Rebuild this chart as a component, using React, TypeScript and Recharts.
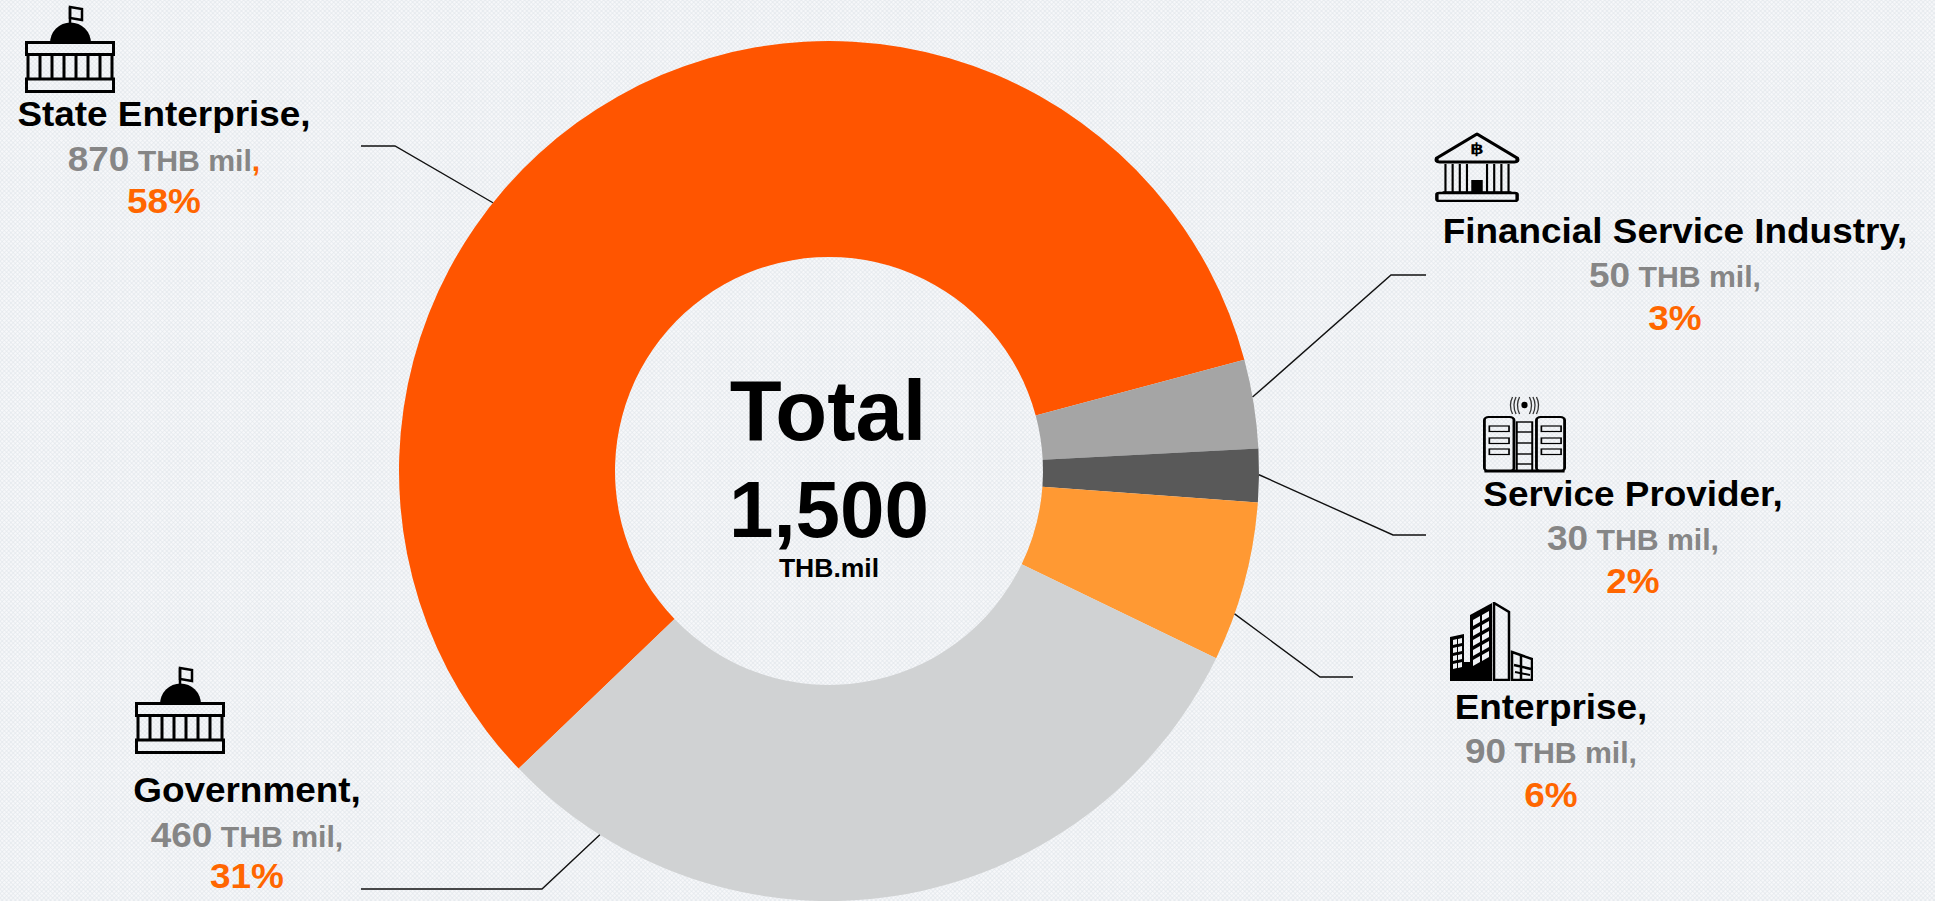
import { Pie, PieChart, Cell } from 'recharts';

const categories = ['State Enterprise', 'Financial Service Industry', 'Service Provider', 'Enterprise', 'Government'];
const values = [870, 50, 30, 90, 460];
const shares = [58, 3, 2, 6, 31];
const colors = ['#FF5500', '#A5A5A5', '#595959', '#FF9933', '#D0D2D3'];

const data = categories.map((name, i) => ({ name, value: values[i], share: shares[i] }));
const total = values.reduce((sum, v) => sum + v, 0);

const GREY = '#868686';
const ORANGE = '#FF6600';
const FONT = '"Liberation Sans", Arial, sans-serif';

// hand placed callouts, one per slice: where the leader leaves the ring, its elbow and end, then the text block
const callouts = [
  { anchor: 141.4, elbow: [395, 146], end: 361, cx: 164, y: [126, 171, 213], comma: ORANGE },
  { anchor: 9.9, elbow: [1391, 275], end: 1426, cx: 1675, y: [243, 287, 330], comma: GREY },
  { anchor: -0.5, elbow: [1393, 535], end: 1426, cx: 1633, y: [506, 550, 593], comma: GREY },
  { anchor: -19.4, elbow: [1320, 677], end: 1353, cx: 1551, y: [719, 763, 807], comma: GREY },
  { anchor: 237.8, elbow: [542, 889], end: 361, cx: 247, y: [802, 847, 888], comma: GREY },
];

function SliceCallout(props: any) {
  const { cx, cy, outerRadius, index } = props;
  const c = callouts[index];
  const d = data[index];
  const rad = (c.anchor * Math.PI) / 180;
  const x0 = cx + outerRadius * Math.cos(rad);
  const y0 = cy - outerRadius * Math.sin(rad);
  return (
    <g fontFamily={FONT} fontWeight="bold" textAnchor="middle">
      <polyline
        points={`${x0},${y0} ${c.elbow[0]},${c.elbow[1]} ${c.end},${c.elbow[1]}`}
        fill="none"
        stroke="#111"
        strokeWidth={1.4}
      />
      <g transform={`translate(${c.cx},0) scale(1.025,1)`}>
        <text y={c.y[0]} fontSize={36} fill="#000">
          {d.name},
        </text>
        <text y={c.y[1]} fontSize={36} fill={GREY}>
          {d.value}
          <tspan fontSize={29.5}> THB mil</tspan>
          <tspan fontSize={29.5} fill={c.comma}>
            ,
          </tspan>
        </text>
        <text y={c.y[2]} fontSize={36} fill={ORANGE}>
          {d.share}%
        </text>
      </g>
    </g>
  );
}

function CapitolIcon({ x, y }: { x: number; y: number }) {
  const columns = [3, 15, 27, 39, 51, 63, 75, 87];
  return (
    <svg x={x} y={y} width={90} height={88} viewBox="0 0 90 88">
      <path d="M45 37V2" stroke="#000" strokeWidth={2.5} />
      <path d="M45 2l12 2v11l-12-2z" fill="none" stroke="#000" strokeWidth={2.5} />
      <path d="M25 38a20.5 20.5 0 0 1 41 0z" fill="#000" />
      <rect x={1.5} y={37.5} width={87} height={12} fill="none" stroke="#000" strokeWidth={3} />
      <rect x={1.5} y={74} width={87} height={12.5} fill="none" stroke="#000" strokeWidth={3} />
      {columns.map((cxx) => (
        <path key={cxx} d={`M${cxx} 49V74`} stroke="#000" strokeWidth={3} />
      ))}
    </svg>
  );
}

function BankIcon({ x, y }: { x: number; y: number }) {
  const columns = [8, 13, 18, 23, 37, 42, 47, 52];
  return (
    <svg x={x} y={y} width={86} height={70} viewBox="0 0 60 70" preserveAspectRatio="none">
      <path
        d="M30 2L2 26q-1 4 2 4h52q3 0 2-4z"
        fill="none"
        stroke="#000"
        strokeWidth={2.8}
        strokeLinejoin="round"
      />
      <text x={30} y={22} fontSize={15} fontWeight="bold" textAnchor="middle" fontFamily={FONT}>
        ฿
      </text>
      {columns.map((cxx) => (
        <path key={cxx} d={`M${cxx} 32V60`} stroke="#000" strokeWidth={1.5} />
      ))}
      <rect x={26} y={48} width={8} height={12} fill="#000" />
      <path d="M6 60H54" stroke="#000" strokeWidth={1.6} />
      <rect x={2} y={61} width={56} height={8} rx={1.5} fill="none" stroke="#000" strokeWidth={2.4} />
    </svg>
  );
}

function ServerIcon({ x, y }: { x: number; y: number }) {
  const slots = [31, 43, 54];
  const rungs = [37, 48, 59, 69];
  return (
    <svg x={x} y={y} width={83} height={78} viewBox="0 0 59 78" preserveAspectRatio="none">
      <ellipse cx={29.5} cy={10} rx={2.2} ry={3.2} fill="#000" />
      {[3.5, 6, 8.5].map((r) => (
        <g key={r} fill="none" stroke="#333" strokeWidth={0.9}>
          <path d={`M${29.5 - r} 2Q${29.5 - r - 3} 10 ${29.5 - r} 19`} />
          <path d={`M${29.5 + r} 2Q${29.5 + r + 3} 10 ${29.5 + r} 19`} />
        </g>
      ))}
      <rect x={1} y={22} width={21} height={54} rx={3} fill="none" stroke="#000" strokeWidth={2} />
      <rect x={38} y={22} width={20} height={54} rx={3} fill="none" stroke="#000" strokeWidth={2} />
      <path d="M1 76H58" stroke="#000" strokeWidth={3} />
      <rect x={24} y={27} width={11} height={49} fill="none" stroke="#000" strokeWidth={1.4} />
      {rungs.map((ry) => (
        <path key={ry} d={`M24 ${ry}H35`} stroke="#000" strokeWidth={1.4} />
      ))}
      {slots.map((sy) => (
        <g key={sy}>
          <rect x={4.5} y={sy} width={14} height={5.5} fill="none" stroke="#000" strokeWidth={1.2} />
          <rect x={41.5} y={sy} width={14} height={5.5} fill="none" stroke="#000" strokeWidth={1.2} />
        </g>
      ))}
    </svg>
  );
}

function BuildingIcon({ x, y }: { x: number; y: number }) {
  const midRows = [12, 22, 32, 42, 52];
  const leftRows = [36, 44, 52, 60];
  return (
    <svg x={x} y={y} width={83} height={79} viewBox="0 0 83 79">
      <path d="M0 79V35L14 32V79z" fill="#000" />
      <path d="M20 79V13L42 1V79z" fill="#000" />
      <path d="M14 79V60H20V79z" fill="#000" />
      <path d="M44 1L59 10V78H44z" fill="none" stroke="#000" strokeWidth={2.5} />
      <path d="M62 50L82 57V78H62z" fill="none" stroke="#000" strokeWidth={2.5} />
      {midRows.map((ry) => (
        <g key={ry} fill="#EEF1F4">
          <path d={`M23 ${ry + 6}l7-4v6l-7 4z`} />
          <path d={`M32 ${ry + 1}l7-4v6l-7 4z`} />
        </g>
      ))}
      {leftRows.map((ry) => (
        <g key={ry} fill="#EEF1F4">
          <path d={`M3 ${ry + 2}l4-1v5l-4 1z`} />
          <path d={`M8 ${ry + 1}l4-1v5l-4 1z`} />
        </g>
      ))}
      <path d="M64 63L81 67M71 54V77" stroke="#000" strokeWidth={2.5} />
      <path d="M65 70L80 73" stroke="#000" strokeWidth={2} />
    </svg>
  );
}

export default function App() {
  return (
    <div
      style={{
        position: 'absolute',
        left: 0,
        top: 0,
        width: 1935,
        height: 901,
        overflow: 'hidden',
        backgroundColor: '#E6EAEE',
        backgroundImage:
          'radial-gradient(circle, #F7F8FA 1.1px, transparent 1.3px), radial-gradient(circle, #F7F8FA 1.1px, transparent 1.3px)',
        backgroundSize: '4.4px 4.4px',
        backgroundPosition: '0 0, 2.2px 2.2px',
      }}
    >
      <PieChart width={1935} height={901} margin={{ top: 0, right: 0, bottom: 0, left: 0 }}>
        <Pie
          data={data}
          dataKey="value"
          nameKey="name"
          cx={829}
          cy={471}
          innerRadius={214}
          outerRadius={430}
          startAngle={223.8}
          endAngle={-136.2}
          stroke="none"
          isAnimationActive={false}
          label={SliceCallout}
          labelLine={false}
        >
          {data.map((d, i) => (
            <Cell key={d.name} fill={colors[i]} />
          ))}
        </Pie>
        <CapitolIcon x={25} y={5} />
        <CapitolIcon x={135} y={666} />
        <BankIcon x={1434} y={132} />
        <ServerIcon x={1483} y={395} />
        <BuildingIcon x={1450} y={602} />
        <g fontFamily={FONT} fontWeight="bold" textAnchor="middle" fill="#000">
          <text x={828} y={440} fontSize={85}>
            Total
          </text>
          <text x={829} y={537} fontSize={80}>
            {total.toLocaleString('en-US')}
          </text>
          <text x={829} y={577} fontSize={26.5}>
            THB.mil
          </text>
        </g>
      </PieChart>
    </div>
  );
}
